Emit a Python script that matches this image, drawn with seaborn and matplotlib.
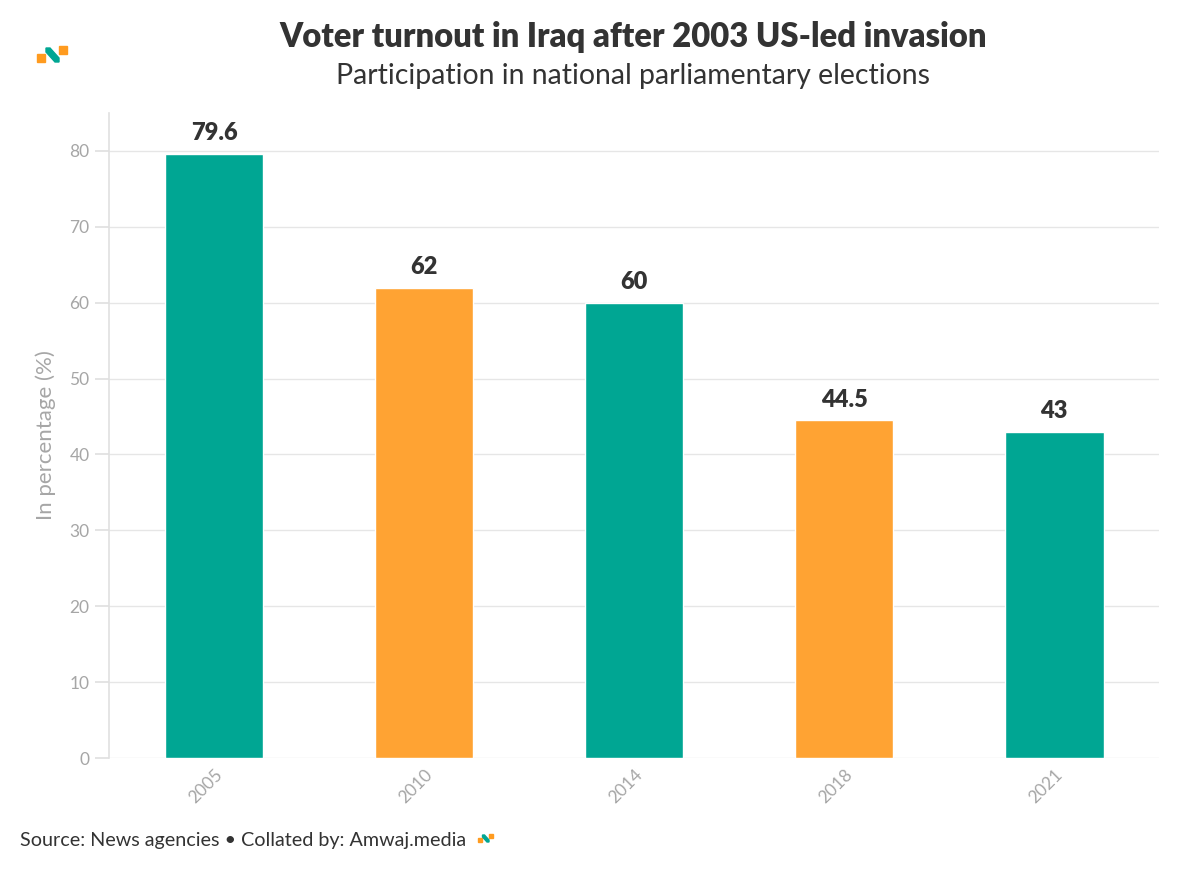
import matplotlib
matplotlib.use("Agg")
import matplotlib.pyplot as plt
import seaborn as sns
import pandas as pd
from matplotlib.patches import Rectangle, Polygon

years = ["2005", "2010", "2014", "2018", "2021"]
turnout = [79.6, 62, 60, 44.5, 43]
value_labels = ["79.6", "62", "60", "44.5", "43"]
bar_colors = ["#00A693", "#FFA333", "#00A693", "#FFA333", "#00A693"]
y_ticks = [0, 10, 20, 30, 40, 50, 60, 70, 80]

sns.set_theme(style="white")
FONT = ["Lato", "DejaVu Sans"]
plt.rcParams["font.family"] = FONT

df = pd.DataFrame({"year": years, "turnout": turnout})

fig = plt.figure(figsize=(12, 8.69), dpi=100)
ax = fig.add_axes([0.0908, 0.1277, 0.8752, 0.7423])

sns.barplot(data=df, x="year", y="turnout", hue="year",
            palette=dict(zip(years, bar_colors)), width=0.47,
            legend=False, ax=ax, saturation=1)

ax.set_xlim(-0.5, 4.5)
ax.set_ylim(0, 85)
ax.set_yticks(y_ticks)
ax.yaxis.grid(True, color="#E6E6E6", linewidth=1)
ax.set_axisbelow(True)
for s in ["top", "right"]:
    ax.spines[s].set_visible(False)
ax.spines["bottom"].set_visible(False)
ax.spines["left"].set_color("#E0E0E0")
ax.spines["left"].set_linewidth(1.2)
ax.tick_params(axis="y", length=10, color="#E0E0E0", labelsize=12.5,
               labelcolor="#A6A6A6", pad=4, left=True)
ax.tick_params(axis="x", length=0, labelsize=12.5, labelcolor="#A6A6A6", pad=6)
for lab in ax.get_xticklabels():
    lab.set_rotation(45)
    lab.set_ha("right")
    lab.set_rotation_mode("anchor")
ax.set_xlabel("")
ax.set_ylabel("In percentage (%)", fontsize=16, color="#A6A6A6", labelpad=10)

for i, (v, t) in enumerate(zip(turnout, value_labels)):
    ax.annotate(t, (i, v), xytext=(0, 7), textcoords="offset points",
                ha="center", va="bottom", fontsize=17, fontweight="heavy",
                color="#333333")

fig.text(0.5275, 0.957, "Voter turnout in Iraq after 2003 US-led invasion",
         ha="center", va="center", fontsize=23.6, fontweight="heavy", color="#333333")
fig.text(0.5275, 0.913, "Participation in national parliamentary elections",
         ha="center", va="center", fontsize=20.4, color="#333333")
fig.text(0.017, 0.033, "Source: News agencies \u2022 Collated by: Amwaj.media",
         ha="left", va="center", fontsize=14.2, color="#333333")

def logo(x0, y0, s):
    # x0,y0 in pixels (top-left), s scale
    W, H = 1200, 869
    def r(px, py, w, h, c):
        fig.patches.append(Rectangle(((x0 + px * s) / W, 1 - (y0 + (py + h) * s) / H),
                                     w * s / W, h * s / H, color=c,
                                     transform=fig.transFigure, figure=fig))
    r(0, 8, 8, 8, "#FF9B1F")
    r(22, 0, 8, 8, "#FF9B1F")
    pts = [(9, 2), (13, 2), (22, 12), (22, 16), (18, 16), (9, 6)]
    fig.patches.append(Polygon([((x0 + px * s) / W, 1 - (y0 + py * s) / H) for px, py in pts],
                               closed=True, color="#00A693",
                               transform=fig.transFigure, figure=fig))

logo(37, 46, 1.0)
logo(478, 834, 0.5)

fig.savefig("out.png", dpi=100, facecolor="white")
